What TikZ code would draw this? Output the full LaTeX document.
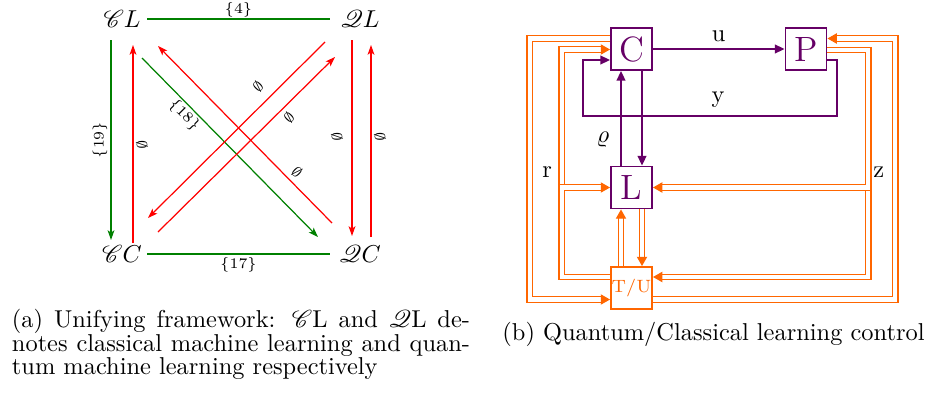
\documentclass[tikz,border=0pt]{standalone}
\usepackage{mathrsfs}
\usetikzlibrary{arrows.meta,calc}
\definecolor{mpurple}{RGB}{102,0,102}
\definecolor{morange}{RGB}{255,102,0}
\definecolor{mgreen}{RGB}{0,128,0}
\begin{document}
\begin{tikzpicture}[x=0.4098pt, y=-0.4098pt,
  lab/.style={font=\fontsize{6}{7}\selectfont, inner sep=0pt},
  gline/.style={draw=mgreen, line width=0.5pt},
  rline/.style={draw=red, line width=0.5pt},
  ltip/.style={-{Stealth[length=4pt,width=2.8pt,inset=1pt]}},
  pbox/.style={draw=mpurple, line width=0.8pt, minimum width=16.8pt, minimum height=17.2pt, inner sep=0pt, text=mpurple, font=\Large},
  obox/.style={draw=morange, line width=0.8pt, minimum width=16.8pt, minimum height=17.2pt, inner sep=0pt, text=morange, font=\fontsize{7.3}{9}\selectfont},
  parrow/.style={draw=mpurple, line width=0.8pt, -{Triangle[length=4pt,width=3.6pt]}},
  oarrow/.style={draw=morange, double=white, line width=0.45pt, double distance=1.65pt, -{Triangle[length=3.8pt,width=4.2pt]}},
  vlab/.style={inner sep=0pt}
]
\useasboundingbox (0,0) rectangle (927,394);

% ---------- left diagram ----------
\node (CL) at (122,19) {$\mathscr{C}L$};
\node (QL) at (360,19) {$\mathscr{Q}L$};
\node (CC) at (122,254) {$\mathscr{C}C$};
\node (QC) at (360,254) {$\mathscr{Q}C$};

\draw[gline] ($(CL)+(25,0)$) -- node[lab, shift={(0,-9)}] {\{4\}} ($(QL)+(-30,0)$);
\draw[gline] ($(CC)+(25,0)$) -- node[lab, shift={(0,11)}] {\{17\}} ($(QC)+(-30,0)$);
\draw[gline, ltip] ($(CL)+(-11,21)$) -- node[lab, shift={(-11,0)}, rotate=90] {\{19\}} ($(CC)+(-11,-14)$);
\draw[rline, ltip] ($(CC)+(11,-11)$) -- node[lab, pos=0.495, shift={(9,0)}, rotate=90] {$\emptyset$} ($(CL)+(11,26)$);
\draw[gline, ltip] ($(CL)+(20,39)$) -- node[lab, pos=0.28, shift={(-7,7)}, rotate=-45] {\{18\}} ($(QC)+(-42,-17)$);
\draw[rline, ltip] ($(QC)+(-28,-31)$) -- node[lab, pos=0.245, shift={(7.6,-7.6)}, rotate=-45] {$\emptyset$} ($(CL)+(36,27)$);
\draw[rline, ltip] ($(QL)+(-35,23)$) -- node[lab, pos=0.317, shift={(-10.9,-10.8)}, rotate=45] {$\emptyset$} ($(CC)+(26,-36)$);
\draw[rline, ltip] ($(CC)+(36,-22)$) -- node[lab, pos=0.696, shift={(7.8,7.8)}, rotate=45] {$\emptyset$} ($(QL)+(-25,38)$);
\draw[rline, ltip] ($(QL)+(-8,21)$) -- node[lab, pos=0.495, shift={(-15,0)}, rotate=90] {$\emptyset$} ($(QC)+(-8,-18)$);
\draw[rline, ltip] ($(QC)+(11,-17)$) -- node[lab, pos=0.52, shift={(9,0)}, rotate=90] {$\emptyset$} ($(QL)+(11,26)$);

% caption (a)
\node[anchor=base west, inner sep=0pt] (capa1) at (11.5,327.5) {\makebox[187.7pt][s]{(a) Unifying framework: $\mathscr{C}$L and $\mathscr{Q}$L de-}};
\node[anchor=base west, inner sep=0pt] (capa2) at (11.5,351) {\makebox[187.7pt][s]{notes classical machine learning and quan-}};
\node[anchor=base west, inner sep=0pt] (capa3) at (11.5,374.5) {tum machine learning respectively};

% ---------- right diagram ----------
\node[pbox] (C) at (631.5,49) {C};
\node[pbox] (P) at (806,49) {P};
\node[pbox] (L) at (631.5,187.5) {L};
\node[obox] (TU) at (631.5,288) {T/U};

% orange double paths
\draw[oarrow] ($(C.west)+(0,-10.5)$) -- ++(-80.5,0) |- node[vlab, pos=0.256, xshift=7.2pt] {r} ($(TU.west)+(0,11.5)$);
\draw[oarrow] ($(TU.west)+(0,-11)$) -- ++(-48.5,0) |- ($(C.west)+(0,0.5)$);
\draw[oarrow] ($(TU.west)+(0,-11)$) -- ++(-48.5,0) |- (L.west);
\draw[oarrow] ($(TU.east)+(0,11.5)$) -- ++(242.5,0) |- node[vlab, pos=0.244, xshift=-6.8pt] {z} ($(P.east)+(0,-10.5)$);
\draw[oarrow] ($(P.east)+(0,1)$) -- ++(41,0) |- ($(TU.east)+(0,-11)$);
\draw[oarrow] ($(P.east)+(0,1)$) -- ++(41,0) |- (L.east);
\draw[oarrow] ($(TU.north)+(-10.5,0)$) -- ($(L.south)+(-10.5,0)$);
\draw[oarrow] ($(L.south)+(10.5,0)$) -- ($(TU.north)+(10.5,0)$);

% purple paths
\draw[parrow] (C.east) -- node[vlab, shift={(0,-13)}] {u} (P.west);
\draw[parrow] ($(P.east)+(0,11)$) -- ++(9.5,0) -- ++(0,56) -| node[vlab, pos=0.234, shift={(0,-16)}] {y} ($(C.west)+(-27,11)$) -- ($(C.west)+(0,11)$);
\draw[parrow] ($(L.north)+(-10.5,0)$) -- node[vlab, pos=0.275, shift={(-18,0)}] {$\varrho$} ($(C.south)+(-10.5,0)$);
\draw[parrow] ($(C.south)+(10.5,0)$) -- ($(L.north)+(10.5,0)$);

% caption (b)
\node[anchor=base west, inner sep=0pt] (capb) at (502,340) {(b) Quantum/Classical learning control};
\end{tikzpicture}
\end{document}
